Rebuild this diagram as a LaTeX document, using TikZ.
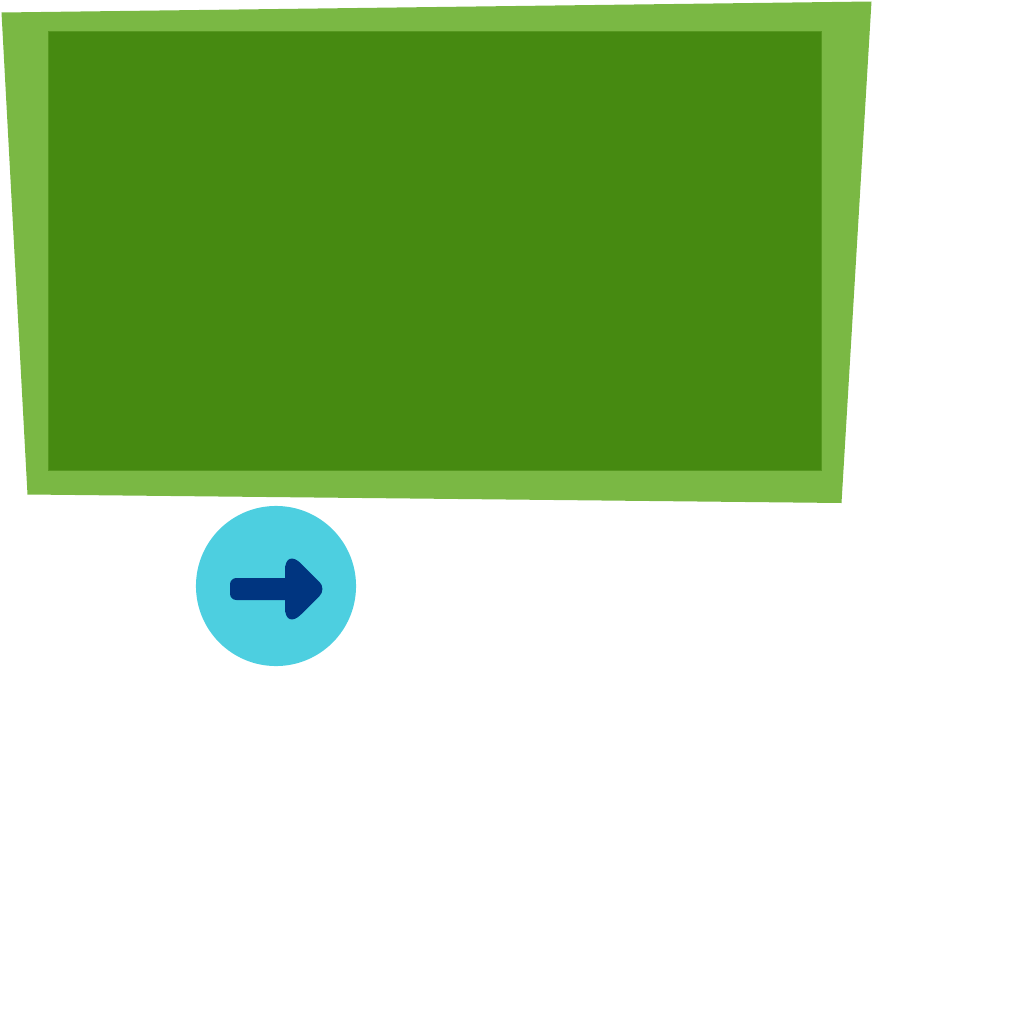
\documentclass[tikz,border=0pt]{standalone}
\definecolor{FrameGreen}{RGB}{122, 184, 68}
\definecolor{BoardGreen}{RGB}{70, 138, 17}
\definecolor{BadgeCyan}{RGB}{77, 207, 224}
\definecolor{ArrowBlue}{RGB}{0, 53, 128}
\usepackage{tikz}
\usetikzlibrary{positioning}

\begin{document}
\begin{tikzpicture}[x=0.01cm, y=-0.01cm,
    board/.style={fill=BoardGreen, draw=BoardGreen!70!FrameGreen, line width=0.2pt, minimum width=7.73cm, minimum height=4.39cm, inner sep=0pt},
    badge/.style={circle, fill=BadgeCyan, minimum size=1.60cm, inner sep=0pt}]
\useasboundingbox (0,0) rectangle (1024,1024);
\fill[FrameGreen] (1.5,12.5) -- (871.5,1.5) -- (841.5,503) -- (27.5,494.5) -- cycle;
\node[board] (b1) at (435,251) {};
\node[badge] (n1) at (276,586) {};
% shaft and head
\fill[ArrowBlue, rounded corners=1.8pt] (230,578) rectangle (295,600);
\fill[ArrowBlue] (285,589) [rounded corners=6.5pt] -- (285,547.5) [rounded corners=2.8pt] -- (326.5,589) [rounded corners=6.5pt] -- (285,630.5) -- cycle;
\end{tikzpicture}
\end{document}
